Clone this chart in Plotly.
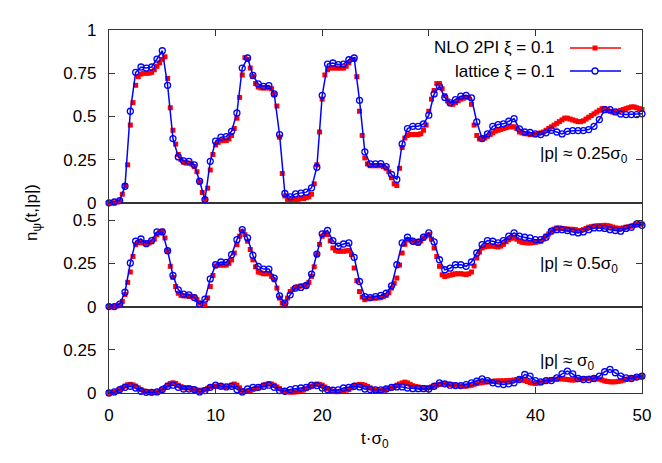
import plotly.graph_objects as go

# ---------------- data ----------------
t_lat = [i * 0.5 for i in range(101)]      # lattice: every 0.5
t_nlo = [i * 0.25 for i in range(201)]     # NLO 2PI: every 0.25

# |p| ~ 0.25 sigma0 (top panel)
nlo_025 = [
    0.00, 0.00, 0.00, 0.005,   0.012, 0.05, 0.10, 0.22,   0.45, 0.58, 0.68, 0.73,
    0.745, 0.75, 0.75, 0.75,   0.755, 0.77, 0.79, 0.81,   0.83, 0.845, 0.72, 0.55,
    0.42, 0.34, 0.28, 0.25,    0.235, 0.23, 0.23, 0.225,  0.21, 0.18, 0.12, 0.06,
    0.015, 0.085, 0.19, 0.28,  0.335, 0.35, 0.36, 0.36,   0.36, 0.37, 0.39, 0.43,
    0.49, 0.61, 0.74, 0.84,    0.83, 0.78, 0.73, 0.69,    0.67, 0.665, 0.665, 0.665,
    0.665, 0.66, 0.63, 0.56,   0.38, 0.17, 0.04, 0.02,    0.02, 0.02, 0.02, 0.02,
    0.025, 0.025, 0.03, 0.035, 0.05, 0.11, 0.22, 0.41,    0.60, 0.74, 0.77, 0.78,
    0.78, 0.78, 0.78, 0.78,    0.78, 0.79, 0.81, 0.83,    0.83, 0.73, 0.53, 0.39,
    0.26, 0.225, 0.215, 0.215, 0.215, 0.215, 0.215, 0.21, 0.20, 0.18, 0.145, 0.11,
    0.10, 0.20, 0.32, 0.375,   0.39, 0.395, 0.395, 0.395, 0.395, 0.40, 0.42, 0.45,
    0.53, 0.60, 0.65, 0.69,    0.69, 0.66, 0.62, 0.59,    0.575, 0.57, 0.58, 0.59,
    0.60, 0.605, 0.61, 0.61,   0.57, 0.45, 0.39, 0.37,    0.37, 0.375, 0.385, 0.395,
    0.405, 0.415, 0.42, 0.425, 0.43, 0.435, 0.44, 0.44,   0.44, 0.43, 0.41, 0.405,
    0.40, 0.40, 0.395, 0.395,  0.395, 0.40, 0.405, 0.41,  0.42, 0.43, 0.44, 0.45,
    0.46, 0.47, 0.48, 0.49,    0.49, 0.485, 0.48, 0.475,  0.47, 0.47, 0.475, 0.485,
    0.495, 0.505, 0.515, 0.525, 0.535, 0.545, 0.545, 0.54, 0.53, 0.525, 0.525, 0.53,
    0.535, 0.54, 0.545, 0.55,  0.555, 0.555, 0.55, 0.545, 0.54,
]
lat_025 = [
    0.0, 0.005, 0.013, 0.096, 0.53, 0.755, 0.786, 0.78, 0.786, 0.832,
    0.88, 0.68, 0.372, 0.266, 0.243, 0.24, 0.22, 0.125, 0.019, 0.24,
    0.357, 0.38, 0.383, 0.414, 0.52, 0.78, 0.838, 0.738, 0.688, 0.674,
    0.678, 0.63, 0.395, 0.054, 0.035, 0.052, 0.056, 0.062, 0.087, 0.206,
    0.622, 0.803, 0.809, 0.80, 0.803, 0.828, 0.838, 0.593, 0.295, 0.225,
    0.225, 0.227, 0.21, 0.164, 0.135, 0.341, 0.43, 0.443, 0.443, 0.457,
    0.507, 0.63, 0.674, 0.61, 0.578, 0.597, 0.617, 0.622, 0.607, 0.468,
    0.372, 0.399, 0.443, 0.453, 0.457, 0.472, 0.487, 0.428, 0.41, 0.407,
    0.399, 0.395, 0.405, 0.42, 0.41, 0.399, 0.414, 0.418, 0.418, 0.418,
    0.424, 0.443, 0.482, 0.539, 0.539, 0.526, 0.514, 0.511, 0.511, 0.511,
    0.515,
]

# |p| ~ 0.5 sigma0 (middle panel)
nlo_05 = [
    0.0, 0.0, 0.0, 0.003,      0.008, 0.03, 0.07, 0.14,   0.20, 0.29, 0.358, 0.37,
    0.37, 0.368, 0.365, 0.368, 0.375, 0.39, 0.416, 0.43,  0.436, 0.397, 0.32, 0.233,
    0.168, 0.116, 0.077, 0.065, 0.062, 0.062, 0.06, 0.058, 0.055, 0.04, 0.02, 0.012,
    0.01, 0.05, 0.116, 0.18,   0.235, 0.24, 0.24, 0.24,   0.24, 0.25, 0.27, 0.31,
    0.358, 0.407, 0.436, 0.416, 0.378, 0.33, 0.27, 0.23,  0.20, 0.195, 0.19, 0.19,
    0.19, 0.175, 0.155, 0.107, 0.049, 0.02, 0.01, 0.049,  0.087, 0.10, 0.11, 0.115,
    0.12, 0.12, 0.122, 0.14,   0.175, 0.23, 0.30, 0.36,   0.407, 0.426, 0.416, 0.38,
    0.339, 0.325, 0.32, 0.32,  0.32, 0.322, 0.325, 0.30,  0.223, 0.15, 0.087, 0.055,
    0.04, 0.045, 0.049, 0.049, 0.049, 0.05, 0.052, 0.058, 0.064, 0.08, 0.107, 0.135,
    0.165, 0.24, 0.31, 0.36,   0.387, 0.385, 0.378, 0.372, 0.368, 0.38, 0.397, 0.408,
    0.416, 0.39, 0.339, 0.29,  0.233, 0.184, 0.174, 0.178, 0.182, 0.185, 0.19, 0.19,
    0.19, 0.188, 0.185, 0.19,  0.20, 0.235, 0.281, 0.315, 0.339, 0.345, 0.349, 0.35,
    0.35, 0.347, 0.345, 0.35,  0.36, 0.375, 0.387, 0.395, 0.401, 0.39, 0.378, 0.372,
    0.37, 0.368, 0.368, 0.37,  0.372, 0.375, 0.378, 0.39, 0.407, 0.42, 0.436, 0.448,
    0.455, 0.455, 0.452, 0.45, 0.448, 0.447, 0.447, 0.445, 0.44, 0.44, 0.445, 0.452,
    0.459, 0.462, 0.465, 0.467, 0.468, 0.468, 0.47, 0.468, 0.465, 0.46, 0.455, 0.453,
    0.452, 0.455, 0.459, 0.462, 0.465, 0.47, 0.475, 0.477, 0.478,
]
lat_05 = [
    0.0, 0.0, 0.014, 0.083, 0.252, 0.378, 0.391, 0.364, 0.382, 0.432,
    0.432, 0.323, 0.18, 0.097, 0.072, 0.068, 0.052, 0.014, 0.043, 0.16,
    0.242, 0.258, 0.256, 0.30, 0.387, 0.445, 0.397, 0.297, 0.233, 0.217,
    0.217, 0.165, 0.062, 0.02, 0.068, 0.107, 0.111, 0.122, 0.188, 0.304,
    0.421, 0.44, 0.382, 0.349, 0.362, 0.368, 0.285, 0.145, 0.058, 0.052,
    0.058, 0.064, 0.077, 0.12, 0.242, 0.368, 0.401, 0.378, 0.372, 0.401,
    0.426, 0.374, 0.271, 0.213, 0.222, 0.242, 0.242, 0.233, 0.258, 0.31,
    0.358, 0.382, 0.378, 0.368, 0.382, 0.407, 0.426, 0.407, 0.401, 0.397,
    0.387, 0.387, 0.401, 0.436, 0.445, 0.445, 0.44, 0.432, 0.426, 0.432,
    0.445, 0.455, 0.455, 0.452, 0.445, 0.44, 0.436, 0.452, 0.459, 0.478,
    0.47,
]

# |p| ~ sigma0 (bottom panel)
nlo_1 = [
    0.0, 0.002, 0.005, 0.01,   0.02, 0.03, 0.04, 0.048,   0.05, 0.047, 0.04, 0.03,
    0.02, 0.012, 0.007, 0.005, 0.004, 0.004, 0.005, 0.01, 0.02, 0.032, 0.045, 0.055,
    0.059, 0.055, 0.045, 0.037, 0.03, 0.03, 0.03, 0.025,  0.02, 0.017, 0.015, 0.016,
    0.02, 0.027, 0.035, 0.038, 0.04, 0.04, 0.04, 0.038,   0.035, 0.04, 0.045, 0.052,
    0.045, 0.03, 0.015, 0.01,  0.01, 0.014, 0.02, 0.025,  0.03, 0.037, 0.045, 0.05,
    0.055, 0.052, 0.045, 0.035, 0.025, 0.015, 0.01, 0.007, 0.005, 0.005, 0.007, 0.008,
    0.01, 0.017, 0.025, 0.032, 0.04, 0.047, 0.052, 0.05,  0.045, 0.035, 0.025, 0.017,
    0.01, 0.008, 0.008, 0.01,  0.012, 0.016, 0.02, 0.03,  0.04, 0.046, 0.05, 0.049,
    0.045, 0.038, 0.03, 0.022, 0.017, 0.015, 0.015, 0.017, 0.02, 0.025, 0.03, 0.038,
    0.045, 0.052, 0.058, 0.063, 0.058, 0.05, 0.042, 0.038, 0.035, 0.032, 0.03, 0.03,
    0.03, 0.035, 0.04, 0.045,  0.05, 0.053, 0.055, 0.052, 0.05, 0.047, 0.045, 0.042,
    0.04, 0.04, 0.04, 0.042,   0.045, 0.05, 0.055, 0.058, 0.06, 0.063, 0.065, 0.066,
    0.068, 0.069, 0.07, 0.07,  0.07, 0.071, 0.072, 0.073, 0.075, 0.078, 0.08, 0.077,
    0.072, 0.066, 0.06, 0.057, 0.055, 0.058, 0.062, 0.066, 0.07, 0.074, 0.078, 0.079,
    0.08, 0.081, 0.082, 0.08,  0.078, 0.076, 0.075, 0.076, 0.078, 0.08, 0.082, 0.084,
    0.085, 0.085, 0.085, 0.083, 0.08, 0.075, 0.07, 0.067, 0.065, 0.064, 0.065, 0.067,
    0.07, 0.074, 0.078, 0.082, 0.085, 0.088, 0.09, 0.093, 0.095,
]
lat_1 = [
    0.0, 0.006, 0.02, 0.033, 0.039, 0.029, 0.01, 0.004, 0.004, 0.006,
    0.02, 0.039, 0.045, 0.033, 0.023, 0.023, 0.02, 0.006, 0.014, 0.033,
    0.045, 0.039, 0.035, 0.039, 0.02, 0.006, 0.023, 0.033, 0.033, 0.039,
    0.045, 0.033, 0.014, 0.01, 0.02, 0.025, 0.029, 0.033, 0.045, 0.043,
    0.029, 0.02, 0.016, 0.018, 0.029, 0.033, 0.039, 0.035, 0.023, 0.02,
    0.018, 0.018, 0.023, 0.033, 0.035, 0.035, 0.029, 0.025, 0.025, 0.025,
    0.023, 0.039, 0.059, 0.053, 0.045, 0.043, 0.043, 0.049, 0.059, 0.068,
    0.082, 0.072, 0.059, 0.053, 0.049, 0.053, 0.059, 0.078, 0.107, 0.098,
    0.072, 0.064, 0.072, 0.072, 0.088, 0.111, 0.127, 0.111, 0.084, 0.078,
    0.078, 0.084, 0.098, 0.123, 0.137, 0.117, 0.098, 0.088, 0.084, 0.092,
    0.098,
]

x_ticks = [0, 10, 20, 30, 40, 50]
legend_nlo = "NLO 2PI ξ = 0.1"
legend_lat = "lattice ξ = 0.1"
panel_labels = ["|p| ≈ 0.25σ<sub>0</sub>", "|p| ≈ 0.5σ<sub>0</sub>", "|p| ≈ σ<sub>0</sub>"]

# ---------------- figure ----------------
RED = "#ff0000"
BLUE = "#0000ff"
FONT = "Liberation Sans, Arial, sans-serif"
AX = "#333333"

fig = go.Figure()
panels = [("x3", "y3", nlo_025, lat_025), ("x2", "y2", nlo_05, lat_05), ("x", "y", nlo_1, lat_1)]
for xa, ya, nlo, lat in panels:
    fig.add_trace(go.Scatter(x=t_nlo, y=nlo, xaxis=xa, yaxis=ya, mode="markers",
                             marker=dict(symbol="square", size=5, color=RED, line=dict(width=0)),
                             cliponaxis=False, showlegend=False, hoverinfo="skip"))
    fig.add_trace(go.Scatter(x=t_lat, y=lat, xaxis=xa, yaxis=ya, mode="lines+markers",
                             line=dict(color=BLUE, width=1.5),
                             marker=dict(symbol="circle-open", size=6, color=BLUE, line=dict(width=1.3)),
                             cliponaxis=False, showlegend=False, hoverinfo="skip"))

unit = 1.0 / 2.1
d1 = 0.5 * unit
d2 = d1 + 0.6 * unit

common_x = dict(range=[0, 50], tickvals=x_ticks, showline=True, linecolor=AX, linewidth=1.3,
                mirror=True, showgrid=False, zeroline=False, ticklen=6, tickcolor=AX)
common_y = dict(showline=True, linecolor=AX, linewidth=1.3, mirror="ticks", showgrid=False,
                zeroline=False, ticks="inside", ticklen=6, tickcolor=AX, dtick=0.25, tick0=0,
                ticklabelstandoff=8)

fig.update_layout(
    width=662, height=463,
    margin=dict(l=101, r=28, t=22, b=78),
    paper_bgcolor="white", plot_bgcolor="white",
    font=dict(family=FONT, size=17, color="black"),
    showlegend=False,
    xaxis=dict(common_x, anchor="y", ticks="inside", ticklabelstandoff=6),
    xaxis2=dict(common_x, anchor="y2", ticks="", showticklabels=False, matches="x"),
    xaxis3=dict(common_x, anchor="y3", side="top", ticks="inside", showticklabels=False, matches="x"),
    yaxis=dict(common_y, domain=[0, d1], range=[0, 0.5], anchor="x", tickvals=[0, 0.25]),
    yaxis2=dict(common_y, domain=[d1, d2], range=[0, 0.6], anchor="x2", tickvals=[0, 0.25, 0.5]),
    yaxis3=dict(common_y, domain=[d2, 1], range=[0, 1], anchor="x3", tickvals=[0, 0.25, 0.5, 0.75, 1]),
)

def px_x(p):
    return (p - 101) / 533.0

def px_y(p):
    return (385 - p) / 363.0

ann = []
ann.append(dict(text=panel_labels[0], x=px_x(622), y=px_y(147), xanchor="right", yanchor="middle"))
ann.append(dict(text=panel_labels[1], x=px_x(612), y=px_y(257), xanchor="right", yanchor="middle"))
ann.append(dict(text=panel_labels[2], x=px_x(589), y=px_y(354), xanchor="right", yanchor="middle"))
ann.append(dict(text=legend_nlo, x=px_x(549), y=px_y(40), xanchor="right", yanchor="middle"))
ann.append(dict(text=legend_lat, x=px_x(549), y=px_y(63), xanchor="right", yanchor="middle"))
ann.append(dict(text="n<sub>ψ</sub>(t,|p|)", x=px_x(25), y=px_y(205), textangle=-90,
                xanchor="center", yanchor="middle"))
ann.append(dict(text="t·σ<sub>0</sub>", x=px_x(367), y=px_y(432), xanchor="center", yanchor="middle"))
for a in ann:
    a.update(xref="paper", yref="paper", showarrow=False, font=dict(family=FONT, size=17, color="black"))
fig.update_layout(annotations=ann)

# legend keys (decoration)
shapes = []
for yy, col in [(px_y(40), RED), (px_y(63), BLUE)]:
    shapes.append(dict(type="line", xref="paper", yref="paper", x0=px_x(562), x1=px_x(613),
                       y0=yy, y1=yy, line=dict(color=col, width=1.5)))
shapes.append(dict(type="rect", xref="paper", yref="paper", xsizemode="pixel", ysizemode="pixel",
                   xanchor=px_x(587), yanchor=px_y(40), x0=-2.5, x1=2.5, y0=-2.5, y1=2.5,
                   fillcolor=RED, line=dict(width=0)))
shapes.append(dict(type="circle", xref="paper", yref="paper", xsizemode="pixel", ysizemode="pixel",
                   xanchor=px_x(587), yanchor=px_y(63), x0=-3, x1=3, y0=-3, y1=3,
                   fillcolor="white", line=dict(color=BLUE, width=1.3)))
fig.update_layout(shapes=shapes)

fig.write_html("out.html")
